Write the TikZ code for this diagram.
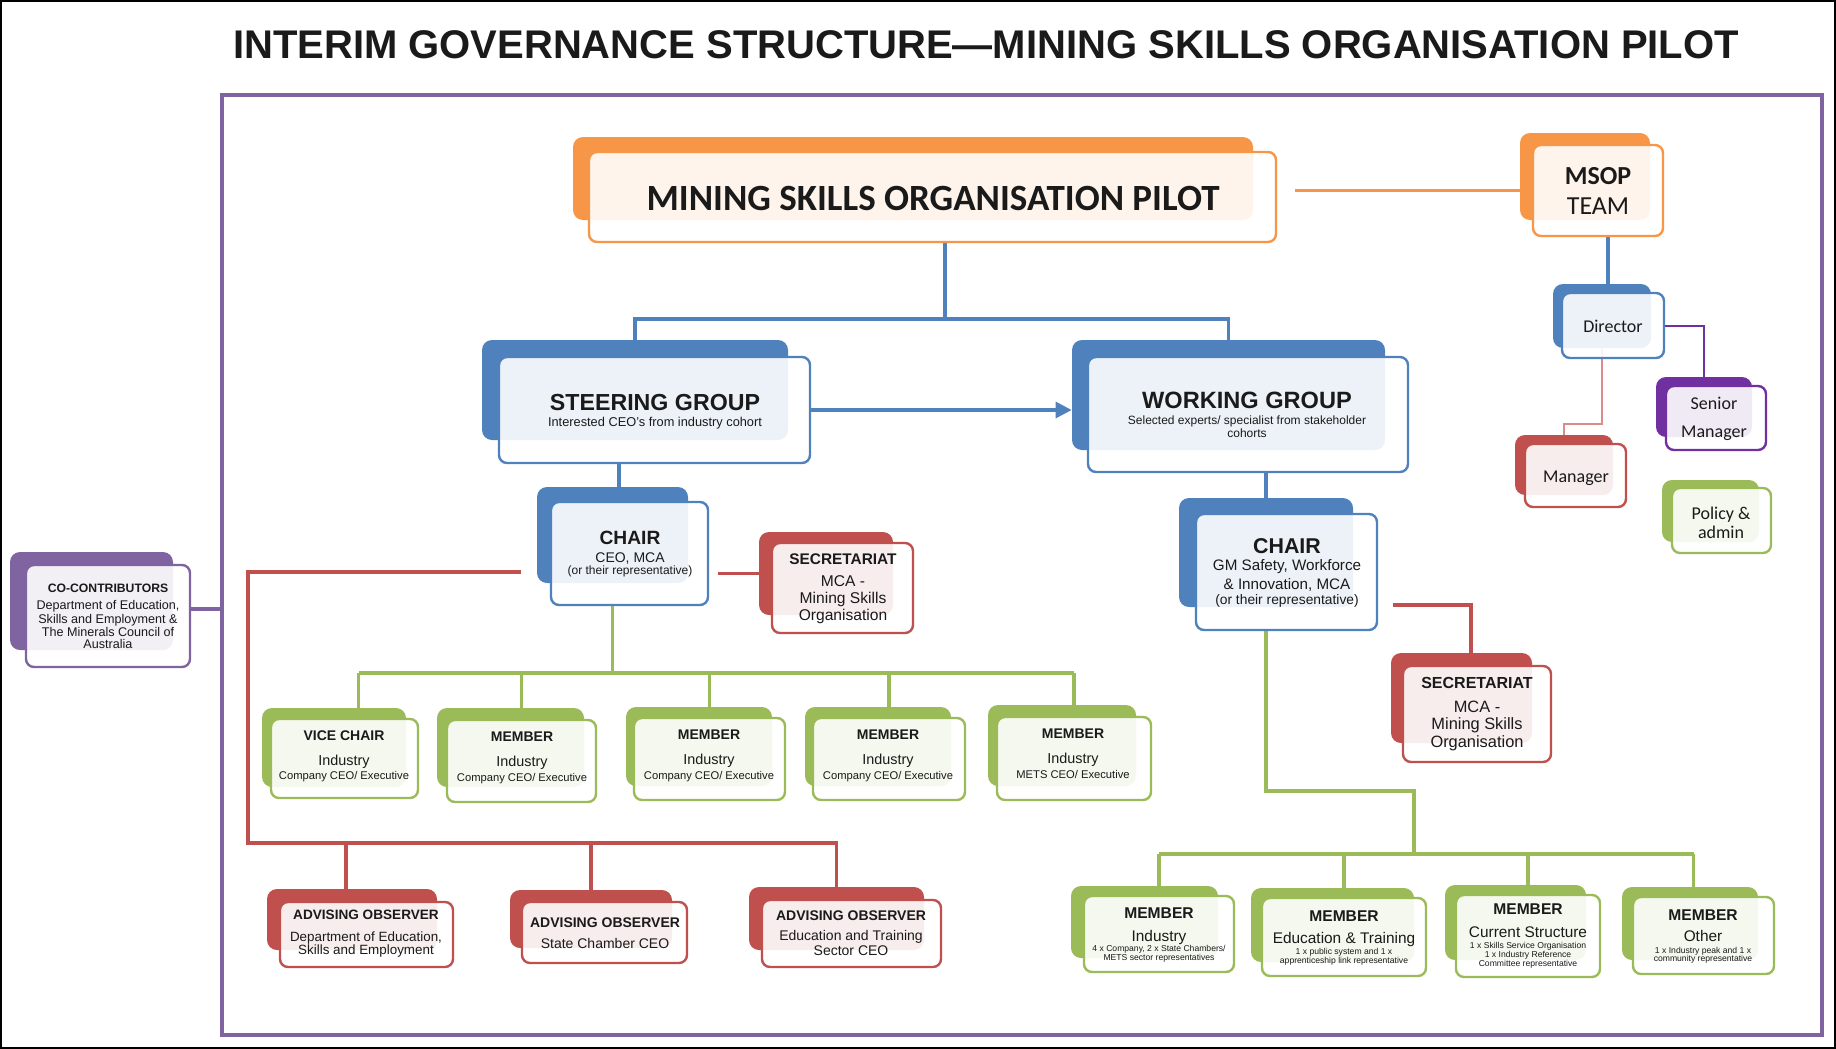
\documentclass[tikz,border=0pt]{standalone}
\usepackage{fontspec}
\setmainfont{Liberation Sans}
\newfontfamily\carl{Carlito}
\usetikzlibrary{fit,calc,arrows.meta,backgrounds}
\definecolor{orangeC}{HTML}{F79646}
\definecolor{blueC}{HTML}{4F81BD}
\definecolor{redC}{HTML}{C0504D}
\definecolor{greenC}{HTML}{9BBB59}
\definecolor{purpleC}{HTML}{8064A2}
\definecolor{vpurple}{HTML}{7030A0}
\definecolor{pinkC}{HTML}{D98C8A}
\definecolor{txt}{HTML}{1A1A1A}
\tikzset{
  backbox/.style={fill=#1, draw=none, rounded corners=5pt, inner sep=0pt},
  frontbox/.style={draw=#1, fill=white, fill opacity=0.9, line width=1.2pt, rounded corners=4pt, inner sep=0pt},
  bline/.style={draw=blueC, line width=1.6pt},
  gline/.style={draw=greenC, line width=1.9pt},
  rline/.style={draw=redC, line width=1.6pt},
  oline/.style={draw=orangeC, line width=1.2pt},
  pline/.style={draw=purpleC, line width=2pt},
  vpline/.style={draw=vpurple, line width=1pt},
  pkline/.style={draw=pinkC, line width=1.2pt},
}
\newcommand\duo[6]{%
  \node[backbox=#2, fit={#3 #4}] (#1-b) {};
  \node[frontbox=#2, fit={#5 #6}] (#1) {};}
\newcommand\tl[5]{\node[anchor=base, inner sep=0pt, text=txt] (#1) at (#2,{#3+0.72*#4}) {\fontsize{#4}{#4}\selectfont #5};}
\begin{document}
\begin{tikzpicture}[x=0.5pt,y=-0.5pt]
\useasboundingbox (0,0) rectangle (1836,1049);
\draw[black, line width=0.8pt] (1,1) rectangle (1835,1048);

% frame
\node[fit={(222,95) (1822,1035)}, inner sep=0pt, draw=purpleC, line width=2pt] (frame) {};

% junction coordinates
\coordinate (j1) at (945,319);
\coordinate (m1x) at (619,0);
\coordinate (r1) at (521,572);
\coordinate (rl) at (248,843);
\coordinate (gy) at (0,673);
\coordinate (g2a) at (1414,791);
\coordinate (gy2) at (0,854);
\coordinate (r2) at (1471,605);
\coordinate (my) at (0,424);
\coordinate (pc) at (0,609);

% boxes
\duo{msop}{orangeC}{(573,137)}{(1253,220)}{(589,152)}{(1276,242)}
\duo{team}{orangeC}{(1520,133)}{(1650,220)}{(1533,145)}{(1663,236)}
\duo{dir}{blueC}{(1553,284)}{(1651,348)}{(1562,293)}{(1664,358)}
\duo{sm}{vpurple}{(1656,377)}{(1752,437)}{(1666,386)}{(1766,450)}
\duo{mgr}{redC}{(1515,435)}{(1613,495)}{(1525,444)}{(1626,507)}
\duo{pol}{greenC}{(1662,480)}{(1759,542)}{(1672,488)}{(1771,553)}
\duo{steer}{blueC}{(482,340)}{(788,440)}{(499,357)}{(810,463)}
\duo{work}{blueC}{(1072,340)}{(1385,450)}{(1088,357)}{(1408,472)}
\duo{ch1}{blueC}{(537,487)}{(688,583)}{(551,502)}{(708,605)}
\duo{sec1}{redC}{(759,532)}{(893,615)}{(772,543)}{(913,633)}
\duo{ch2}{blueC}{(1179,498)}{(1353,607)}{(1196,514)}{(1377,630)}
\duo{sec2}{redC}{(1391,653)}{(1532,743)}{(1403,666)}{(1551,762)}
\duo{vc}{greenC}{(262,708)}{(406,787)}{(271,719)}{(418,798)}
\duo{m2}{greenC}{(437,708)}{(584,787)}{(447,720)}{(596,802)}
\duo{m3}{greenC}{(626,707)}{(772,786)}{(634,718)}{(785,800)}
\duo{m4}{greenC}{(805,707)}{(951,786)}{(813,718)}{(965,800)}
\duo{m5}{greenC}{(988,705)}{(1136,786)}{(997,717)}{(1151,800)}
\duo{ao1}{redC}{(267,889)}{(437,950)}{(280,902)}{(453,967)}
\duo{ao2}{redC}{(510,890)}{(672,948)}{(522,902)}{(687,963)}
\duo{ao3}{redC}{(749,887)}{(924,950)}{(762,900)}{(941,967)}
\duo{b1}{greenC}{(1071,886)}{(1218,958)}{(1084,896)}{(1234,972)}
\duo{b2}{greenC}{(1251,888)}{(1414,962)}{(1262,898)}{(1426,976)}
\duo{b3}{greenC}{(1445,885)}{(1586,960)}{(1456,895)}{(1600,977)}
\duo{b4}{greenC}{(1622,887)}{(1758,960)}{(1633,897)}{(1774,974)}
\duo{cc}{purpleC}{(10,552)}{(173,650)}{(26,565)}{(190,667)}

% connectors, behind the boxes
\begin{scope}[on background layer]
\fill[white] (0,0) rectangle (1836,1049);
% MSOP -> MSOP team
\draw[oline] ([xshift=9pt]msop.east |- team.west) -- (team.west);
% MSOP -> steering / working
\draw[bline] (msop.south -| j1) -- (j1);
\draw[bline] (steer-b.north) |- (j1) -| (work-b.north);
\draw[bline, -{Triangle[length=8pt,width=8pt]}] (steer.east) -- (steer.east -| work-b.west);
% steering -> chair
\draw[bline] (steer.south -| m1x) -- (ch1-b.north -| m1x);
% chair -> secretariat
\draw[rline] ([xshift=4.5pt]ch1.east |- sec1-b.west) -- (sec1-b.west);
% advising observers
\draw[rline] (r1) -| (rl) -| (ao3-b.north);
\draw[rline] ([xshift=-3pt]ao1-b.north |- rl) -- ([xshift=-3pt]ao1-b.north);
\draw[rline] (ao2-b.north |- rl) -- (ao2-b.north);
% chair -> members
\draw[gline] (ch1.south -| ch1-b.south) -- (ch1-b.south |- gy);
\draw[gline] ([xshift=7pt]vc.north |- gy) -- (m5.north |- gy);
\draw[gline] ([xshift=7pt]vc.north |- gy) -- ([xshift=7pt]vc.north |- vc-b.north);
\foreach \n in {m2,m3,m4,m5}{\draw[gline] (\n.north |- gy) -- (\n.north |- \n-b.north);}
% working -> chair2
\draw[bline] (work.south -| ch2-b.north) -- (ch2-b.north);
\draw[rline] ([xshift=7.5pt]ch2.east |- r2) -| (sec2-b.north -| r2);
\draw[gline] (ch2.south -| ch2-b.south) |- (g2a) -- (g2a |- gy2);
\draw[gline] (b1.north |- gy2) -- ([xshift=-5pt]b4.north |- gy2);
\foreach \n in {b1,b2,b3}{\draw[gline] (\n.north |- gy2) -- (\n.north |- \n-b.north);}
\draw[gline] ([xshift=-5pt]b4.north |- gy2) -- ([xshift=-5pt]b4.north |- b4-b.north);
% MSOP team structure
\draw[bline] ([xshift=3pt]team.south -| dir-b.north) -- ([xshift=3pt]dir-b.north);
\draw[vpline] (dir.east) -| (sm-b.north);
\draw[pkline] (dir-b.south) -- (dir-b.south |- my) -| (mgr-b.north);
% co-contributors -> frame
\draw[pline] (cc.east |- pc) -- (frame.west |- pc);
\end{scope}

% texts
\tl{title}{986}{44}{20}{\bfseries INTERIM GOVERNANCE STRUCTURE—MINING SKILLS ORGANISATION PILOT}
\tl{msop-t}{933}{197}{18.5}{\carl\bfseries MINING SKILLS ORGANISATION PILOT}
\tl{team-t1}{1598}{175}{13}{\carl\bfseries MSOP}
\tl{team-t2}{1598}{205}{13}{\carl TEAM}
\tl{dir-t}{1613}{326}{9}{\carl Director}
\tl{sm-t1}{1714}{403}{9}{\carl Senior}
\tl{sm-t2}{1714}{431}{9}{\carl Manager}
\tl{mgr-t}{1576}{476}{9}{\carl Manager}
\tl{pol-t1}{1721}{513}{9}{\carl Policy \&}
\tl{pol-t2}{1721}{532}{9}{\carl admin}
\tl{steer-t1}{655}{402}{11.6}{\bfseries STEERING GROUP}
\tl{steer-t2}{655}{422}{6.4}{Interested CEO's from industry cohort}
\tl{work-t1}{1247}{400}{11.8}{\bfseries WORKING GROUP}
\tl{work-t2}{1247}{420}{6}{Selected experts/ specialist from stakeholder}
\tl{work-t3}{1247}{433}{6}{cohorts}
\tl{ch1-t1}{630}{538}{9.6}{\bfseries CHAIR}
\tl{ch1-t2}{630}{557}{7}{CEO, MCA}
\tl{ch1-t3}{630}{570}{6}{(or their representative)}
\tl{sec1-t1}{843}{559}{7.7}{\bfseries SECRETARIAT}
\tl{sec1-t2}{843}{581}{7.8}{MCA -}
\tl{sec1-t3}{843}{598}{7.8}{Mining Skills}
\tl{sec1-t4}{843}{615}{7.8}{Organisation}
\tl{ch2-t1}{1287}{546}{10.7}{\bfseries CHAIR}
\tl{ch2-t2}{1287}{565}{7.6}{GM Safety, Workforce}
\tl{ch2-t3}{1287}{584}{7.6}{\& Innovation, MCA}
\tl{ch2-t4}{1287}{600}{6.9}{(or their representative)}
\tl{sec2-t1}{1477}{683}{8}{\bfseries SECRETARIAT}
\tl{sec2-t2}{1477}{707}{8.2}{MCA -}
\tl{sec2-t3}{1477}{724}{8.2}{Mining Skills}
\tl{sec2-t4}{1477}{742}{8.2}{Organisation}
\tl{vc-t1}{344}{735}{7}{\bfseries VICE CHAIR}
\tl{vc-t2}{344}{760}{7.2}{Industry}
\tl{vc-t3}{344}{775}{5.6}{Company CEO/ Executive}
\tl{m2-t1}{522}{736}{7}{\bfseries MEMBER}
\tl{m2-t2}{522}{761}{7.2}{Industry}
\tl{m2-t3}{522}{777}{5.6}{Company CEO/ Executive}
\tl{m3-t1}{709}{734}{7}{\bfseries MEMBER}
\tl{m3-t2}{709}{759}{7.2}{Industry}
\tl{m3-t3}{709}{775}{5.6}{Company CEO/ Executive}
\tl{m4-t1}{888}{734}{7}{\bfseries MEMBER}
\tl{m4-t2}{888}{759}{7.2}{Industry}
\tl{m4-t3}{888}{775}{5.6}{Company CEO/ Executive}
\tl{m5-t1}{1073}{733}{7}{\bfseries MEMBER}
\tl{m5-t2}{1073}{758}{7.2}{Industry}
\tl{m5-t3}{1073}{774}{5.6}{METS CEO/ Executive}
\tl{ao1-t1}{366}{915}{6.8}{\bfseries ADVISING OBSERVER}
\tl{ao1-t2}{366}{937}{6.7}{Department of Education,}
\tl{ao1-t3}{366}{950}{6.7}{Skills and Employment}
\tl{ao2-t1}{605}{922}{7}{\bfseries ADVISING OBSERVER}
\tl{ao2-t2}{605}{943}{7}{State Chamber CEO}
\tl{ao3-t1}{851}{915}{7}{\bfseries ADVISING OBSERVER}
\tl{ao3-t2}{851}{935}{7}{Education and Training}
\tl{ao3-t3}{851}{950}{7}{Sector CEO}
\tl{b1-t1}{1159}{913}{7.8}{\bfseries MEMBER}
\tl{b1-t2}{1159}{936}{7.7}{Industry}
\tl{b1-t3}{1159}{948}{4.3}{4 x Company, 2 x State Chambers/}
\tl{b1-t4}{1159}{957}{4.3}{METS sector representatives}
\tl{b2-t1}{1344}{916}{7.8}{\bfseries MEMBER}
\tl{b2-t2}{1344}{938}{7.7}{Education \& Training}
\tl{b2-t3}{1344}{951}{4.3}{1 x public system and 1 x}
\tl{b2-t4}{1344}{960}{4.3}{apprenticeship link representative}
\tl{b3-t1}{1528}{909}{7.8}{\bfseries MEMBER}
\tl{b3-t2}{1528}{932}{7.7}{Current Structure}
\tl{b3-t3}{1528}{945}{4.3}{1 x Skills Service Organisation}
\tl{b3-t4}{1528}{954}{4.3}{1 x Industry Reference}
\tl{b3-t5}{1528}{963}{4.3}{Committee representative}
\tl{b4-t1}{1703}{915}{7.8}{\bfseries MEMBER}
\tl{b4-t2}{1703}{936}{7.7}{Other}
\tl{b4-t3}{1703}{950}{4.3}{1 x Industry peak and 1 x}
\tl{b4-t4}{1703}{958}{4.3}{community representative}
\tl{cc-t1}{108}{588}{6.1}{\bfseries CO-CONTRIBUTORS}
\tl{cc-t2}{108}{605}{6.3}{Department of Education,}
\tl{cc-t3}{108}{619}{6.3}{Skills and Employment \&}
\tl{cc-t4}{108}{632}{6.3}{The Minerals Council of}
\tl{cc-t5}{108}{644}{6.3}{Australia}
\end{tikzpicture}
\end{document}
